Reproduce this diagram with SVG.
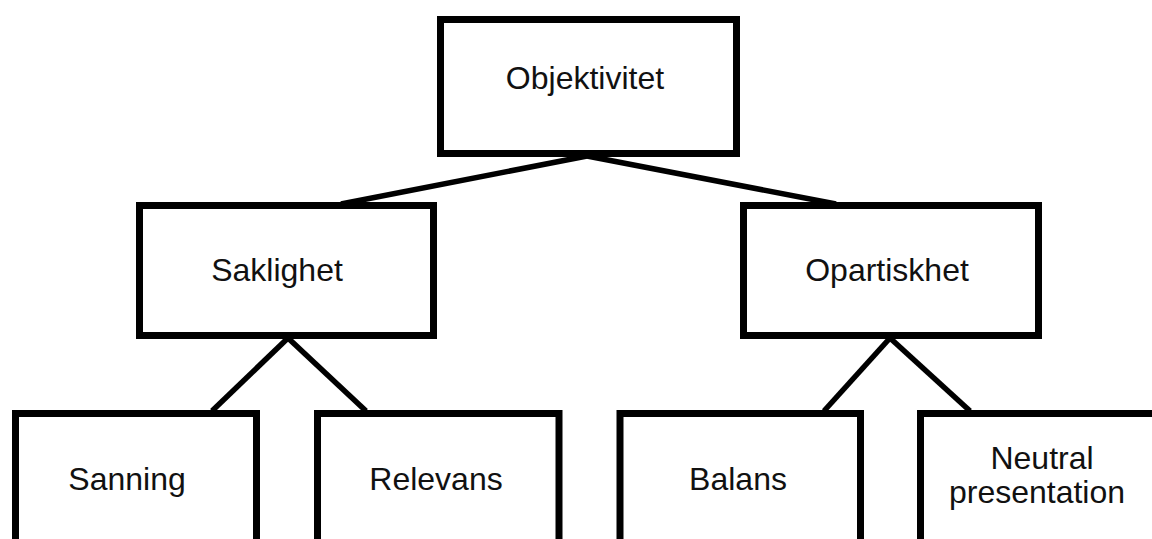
<svg xmlns="http://www.w3.org/2000/svg" width="1152" height="539" viewBox="0 0 1152 539">
<style>
.box{fill:#fff;stroke:#000;stroke-width:7}
.lbl{font-family:"Liberation Sans",Arial,sans-serif;font-size:32px;fill:#111;text-anchor:middle}
.edge{stroke:#000;stroke-width:5.5;fill:none}
</style>
<rect width="1152" height="539" fill="#fff"/>
<g id="connectors">
<line class="edge" x1="587" y1="156" x2="341" y2="204"/>
<line class="edge" x1="587" y1="156" x2="836" y2="204"/>
<line class="edge" x1="288" y1="338" x2="212" y2="411"/>
<line class="edge" x1="288" y1="338" x2="366" y2="411"/>
<line class="edge" x1="890" y1="338" x2="824" y2="411"/>
<line class="edge" x1="890" y1="338" x2="970" y2="411"/>
</g>
<g id="objektivitet">
<rect class="box" x="440.5" y="19.5" width="296" height="134"/>
<text class="lbl" x="585" y="89">Objektivitet</text>
</g>
<g id="saklighet">
<rect class="box" x="139.5" y="205.5" width="294" height="130"/>
<text class="lbl" x="277" y="281">Saklighet</text>
</g>
<g id="opartiskhet">
<rect class="box" x="743.5" y="205.5" width="295" height="130"/>
<text class="lbl" x="887" y="281">Opartiskhet</text>
</g>
<g id="sanning">
<rect class="box" x="15.5" y="413.5" width="241" height="150"/>
<text class="lbl" x="127" y="490">Sanning</text>
</g>
<g id="relevans">
<rect class="box" x="317.5" y="413.5" width="241.5" height="150"/>
<text class="lbl" x="436" y="490">Relevans</text>
</g>
<g id="balans">
<rect class="box" x="620" y="413.5" width="240.5" height="150"/>
<text class="lbl" x="738" y="490">Balans</text>
</g>
<g id="neutral-presentation">
<rect class="box" x="920.5" y="413.5" width="250" height="150"/>
<text class="lbl" x="1042" y="469">Neutral</text>
<text class="lbl" x="1037" y="503">presentation</text>
</g>
</svg>
